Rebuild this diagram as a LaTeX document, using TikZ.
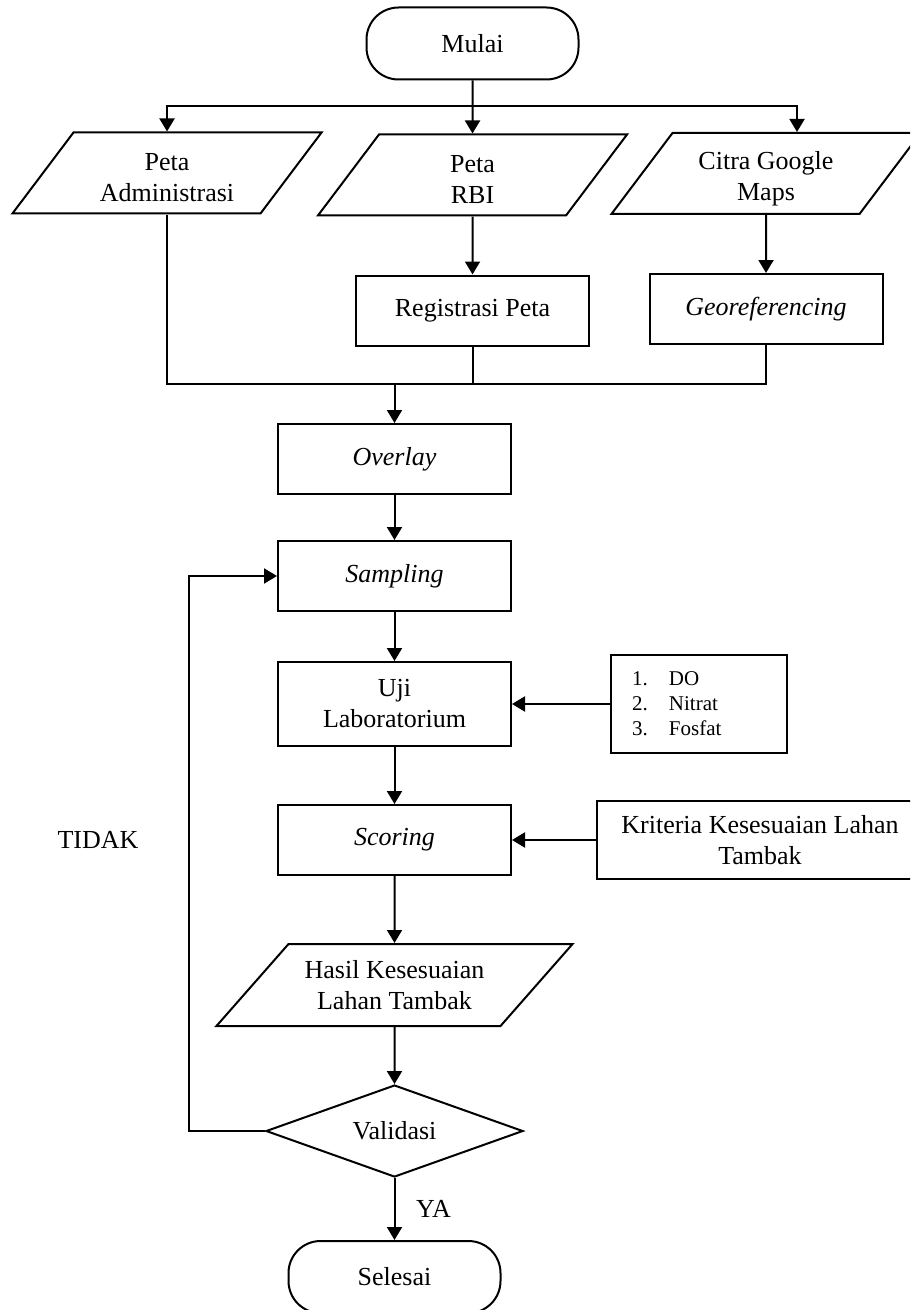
\documentclass[tikz,border=0pt]{standalone}
\usepackage{fontspec}
\setmainfont{Liberation Serif}
\usetikzlibrary{arrows.meta}
\usetikzlibrary{positioning}
\usetikzlibrary{shapes.geometric}
% text block of fixed size, for the slanted data shapes
\newcommand\iotext[4][0pt]{\parbox[c][#3][c]{#2}{\centering\vspace*{#1}#4}}
\tikzset {
  flow node/.style = {
    draw = black,
    line width = 1pt,
    align = center
  },
  % start and end of the flow
  term/.style = {
    flow node,
    rectangle,
    rounded corners = 16pt,
    minimum width = 106pt,
    minimum height = 36pt
  },
  % processing step
  proc/.style = {
    flow node,
    rectangle,
    minimum width = 116.5pt,
    minimum height = 35pt
  },
  % input or output data
  io/.style = {
    flow node,
    trapezium,
    trapezium left angle = #1,
    trapezium right angle = 180-#1,
    inner sep = 0pt
  },
  io/.default = 53,
  % yes / no question
  decision/.style = {
    flow node,
    diamond,
    aspect = 2.8,
    minimum width = 128.5pt,
    minimum height = 46pt
  },
  % side box feeding a step
  note/.style = {
    flow node,
    rectangle
  }
}
\tikzset {
  % path style with no arrows
  narr/.style = {
    draw = black,
    line width = 1pt
  },
  % path style with an arrow at its end
  arr/.style = {
    narr,
    -{Triangle[length = 6.5pt, width = 7.5pt]}
  }
}

\begin{document}
\begin{tikzpicture}[x = 0.5pt, y = -0.5pt, font = \fontsize{13}{15.5}\selectfont]
    \useasboundingbox (0,0) rectangle (910,1310);
    \clip (0,0) rectangle (910,1310);

    \node[term] (mulai) at (472.5,43.5) {Mulai};
    \node[io] (peta-adm) at (167,173) {\iotext[5pt]{93.5pt}{40.5pt}{Peta\\Administrasi}};
    \node[io] (peta-rbi) at (472.5,175) {\iotext[5pt]{93.5pt}{40.5pt}{Peta\\RBI}};
    \node[io] (citra) at (766,173.5) {\iotext[5pt]{93.5pt}{40.5pt}{Citra Google\\Maps}};
    \node[proc] (registrasi) [below = 29pt of peta-rbi] {Registrasi Peta};
    \node[proc] (georef) [below = 29pt of citra] {\textit{Georeferencing}};
    \coordinate (fork) at (472.5,106);
    \coordinate (merge) at (394.5,384);

    \node[proc] (overlay) at (394.5,459) {\textit{Overlay}};
    \node[proc] (sampling) [below = 22.5pt of overlay] {\textit{Sampling}};
    \node[proc, minimum height = 42pt] (uji) [below = 24.5pt of sampling] {Uji\\Laboratorium};
    \node[proc] (scoring) [below = 28.5pt of uji] {\textit{Scoring}};
    \node[io = 48.7] (hasil) [below = 33.5pt of scoring]
      {\iotext{106pt}{41pt}{Hasil Kesesuaian\\Lahan Tambak}};
    \node[decision] (validasi) [below = 28.5pt of hasil] {Validasi};
    \node[term] (selesai) [below = 31pt of validasi] {Selesai};

    \node[note, text width = 67pt, inner xsep = 10.5pt, minimum height = 49pt,
      align = left, font = \fontsize{10.5}{12.5}\selectfont]
      (parameter) [right = 49pt of uji]
      {\makebox[18.5pt][l]{1.}DO\\\makebox[18.5pt][l]{2.}Nitrat\\\makebox[18.5pt][l]{3.}Fosfat};
    \node[note, minimum width = 163pt, minimum height = 39pt] (kriteria)
      [right = 42pt of scoring] {Kriteria Kesesuaian Lahan\\Tambak};
    \coordinate (loop) at (189,1131);
    \node (tidak) at (98,840) {TIDAK};

    \draw[arr] (mulai) -- (peta-rbi);
    \draw[arr] (fork) -| (peta-adm);
    \draw[arr] (fork) -| ([xshift = 15.5pt] citra.north);
    \draw[arr] (peta-rbi) -- (registrasi);
    \draw[arr] (citra) -- (georef);

    \draw[narr] (peta-adm) |- (merge);
    \draw[narr] (registrasi) |- (merge);
    \draw[narr] (georef) |- (merge);
    \draw[arr] (merge) -- (overlay);

    \draw[arr] (overlay) -- (sampling);
    \draw[arr] (sampling) -- (uji);
    \draw[arr] (parameter.west) -- (parameter.west -| uji.east);
    \draw[arr] (uji) -- (scoring);
    \draw[arr] (kriteria.west) -- (kriteria.west -| scoring.east);
    \draw[arr] (scoring) -- (hasil);
    \draw[arr] (hasil) -- (validasi);
    \draw[arr] (validasi) -- node[right = 7pt] {YA} (selesai);
    \draw[arr] (validasi.west) -| (loop) |- (sampling);
\end{tikzpicture}
\end{document}
